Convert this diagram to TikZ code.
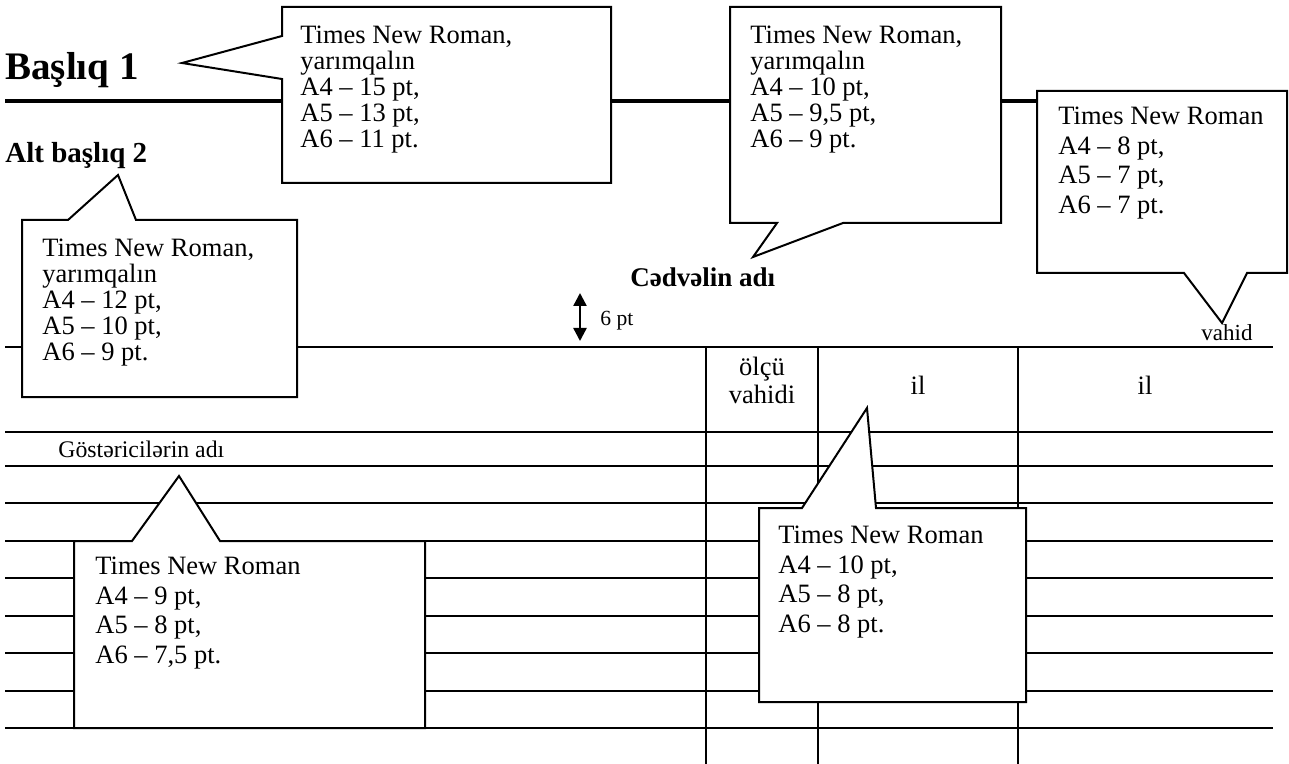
\documentclass[tikz,border=0pt]{standalone}
\usepackage{fontspec}
\setmainfont{Liberation Serif}
\usetikzlibrary{arrows.meta}
\begin{document}
\begin{tikzpicture}[x=0.5pt,y=-0.5pt,line join=miter,
  tline/.style={line width=1pt},
  callout/.style={draw,line width=1pt,fill=white},
  bodyA/.style={anchor=north west,inner sep=0pt,align=left,font=\fontsize{13.25}{13}\selectfont},
  bodyB/.style={anchor=north west,inner sep=0pt,align=left,font=\fontsize{13.25}{14.75}\selectfont},
  lbl/.style={inner sep=0pt}]
\useasboundingbox (0,0) rectangle (1289,764);
% heading rule
\draw[line width=2.4pt] (5,101) -- (1038,101);
% table
\foreach \yy in {347,432,466,503,541,578,616,653,691,728}
  \draw[tline] (5,\yy) -- (1273,\yy);
\foreach \xx in {706,818,1018}
  \draw[tline] (\xx,347) -- (\xx,764);
% callouts
\draw[callout] (282,7) -- (611,7) -- (611,183) -- (282,183) -- (282,79) -- (182,63) -- (282,36) -- cycle;
\draw[callout] (730,7) -- (1001,7) -- (1001,223) -- (843,223) -- (753,257) -- (777,223) -- (730,223) -- cycle;
\draw[callout] (1037,91) -- (1287,91) -- (1287,273) -- (1247,273) -- (1222,323) -- (1184,273) -- (1037,273) -- cycle;
\draw[callout] (22,220) -- (68,220) -- (118,175) -- (136,220) -- (297,220) -- (297,397) -- (22,397) -- cycle;
\draw[callout] (74,541) -- (132,541) -- (179,476) -- (220,541) -- (425,541) -- (425,728) -- (74,728) -- cycle;
\draw[callout] (759,508) -- (802,508) -- (867,408) -- (876,508) -- (1026,508) -- (1026,702) -- (759,702) -- cycle;
% texts in callouts
\node[bodyA] (t1) at (300,26) {Times New Roman,\\yarımqalın\\A4 – 15 pt,\\A5 – 13 pt,\\A6 – 11 pt.};
\node[bodyA] (t3) at (750,26) {Times New Roman,\\yarımqalın\\A4 – 10 pt,\\A5 – 9,5 pt,\\A6 – 9 pt.};
\node[bodyA] (t2) at (42,239) {Times New Roman,\\yarımqalın\\A4 – 12 pt,\\A5 – 10 pt,\\A6 – 9 pt.};
\node[bodyB] (t4) at (1058,107) {Times New Roman\\A4 – 8 pt,\\A5 – 7 pt,\\A6 – 7 pt.};
\node[bodyB] (t5) at (95,557) {Times New Roman\\A4 – 9 pt,\\A5 – 8 pt,\\A6 – 7,5 pt.};
\node[bodyB] (t6) at (778,526) {Times New Roman\\A4 – 10 pt,\\A5 – 8 pt,\\A6 – 8 pt.};
% headings and labels
\node[lbl,anchor=base west,font=\fontsize{19.5}{20}\selectfont\bfseries] (h1) at (5,80) {Başlıq 1};
\node[lbl,anchor=base west,font=\fontsize{14.5}{15}\selectfont\bfseries] (h2) at (5,163) {Alt başlıq 2};
\node[lbl,anchor=base west,font=\fontsize{13.5}{14}\selectfont\bfseries] (cap) at (630,287) {Cədvəlin adı};
\node[lbl,anchor=base west,font=\fontsize{10.8}{11}\selectfont] (six) at (600,326) {6 pt};
\node[lbl,anchor=base west,font=\fontsize{11.5}{12}\selectfont] (vah) at (1201,341) {vahid};
\node[lbl,anchor=north,align=center,font=\fontsize{13.25}{14}\selectfont] (olcu) at (762,357) {ölçü\\vahidi};
\node[lbl,anchor=base,font=\fontsize{13.25}{14}\selectfont] (il1) at (918,394) {il};
\node[lbl,anchor=base,font=\fontsize{13.25}{14}\selectfont] (il2) at (1145,394) {il};
\node[lbl,anchor=base west,font=\fontsize{11.9}{12}\selectfont] (gost) at (58,457) {Göstəricilərin adı};
% 6 pt arrow
\coordinate (atop) at (580,293);
\coordinate (abot) at (580,341);
\draw[line width=1.2pt,{Triangle[width=6.5pt,length=6.5pt]}-{Triangle[width=6.5pt,length=6.5pt]}] (atop) -- (abot);
\end{tikzpicture}
\end{document}
